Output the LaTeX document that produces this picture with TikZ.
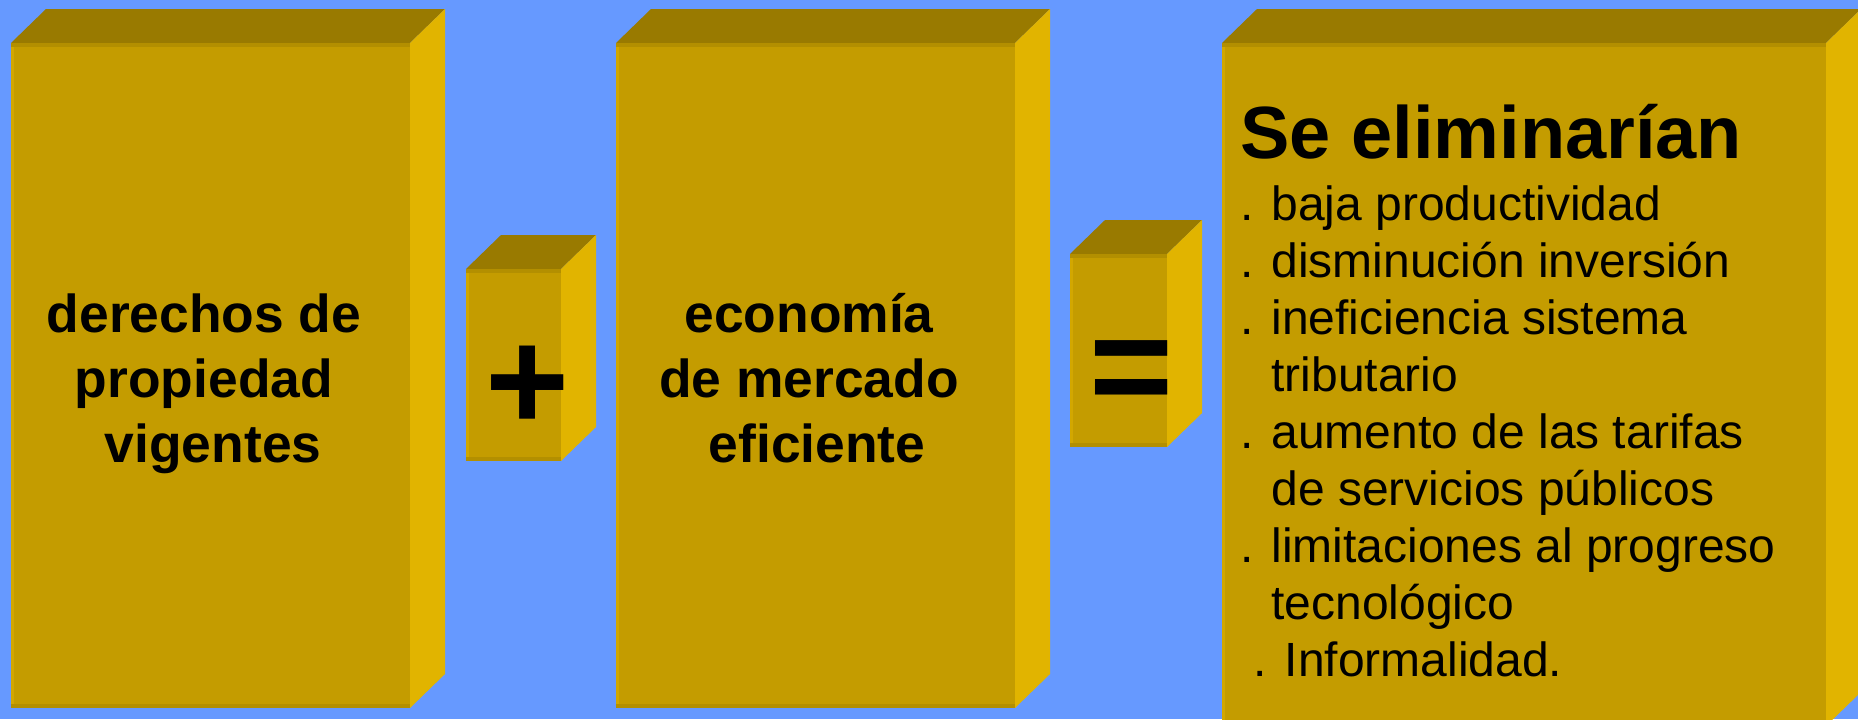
\documentclass[tikz,border=0pt]{standalone}
\usepackage{fontspec}
\setmainfont{Liberation Sans}
\definecolor{fondo}{HTML}{6699FF}
\definecolor{frente}{HTML}{C49C00}
\definecolor{tapa}{HTML}{997A00}
\definecolor{lado}{HTML}{E1B400}
\definecolor{borde}{HTML}{B38F00}
\definecolor{brillo}{HTML}{D2A700}
\tikzset{
  frontface/.style={fill=frente},
  topface/.style={fill=tapa},
  sideface/.style={fill=lado},
  titulo/.style={font=\fontsize{26.7}{32.3}\selectfont\bfseries, align=center, anchor=base, inner sep=0pt},
  signo/.style={font=\fontsize{72}{72}\selectfont\bfseries, inner sep=0pt},
  encabezado/.style={font=\fontsize{37}{44}\selectfont\bfseries, anchor=base west, inner sep=0pt},
  item/.style={font=\fontsize{24}{28.5}\selectfont, anchor=base west, inner sep=0pt}
}
\begin{document}
\begin{tikzpicture}[x=0.5pt,y=-0.5pt]
    \fill[fondo] (0,0) rectangle (1858,719);
    \useasboundingbox (0,0) rectangle (1858,719);
    \clip (0,0) rectangle (1858,719);

%   cajas: esquina frontal superior izquierda / inferior derecha
    \foreach \xa/\ya/\xb/\yb in {11/43/410/708, 466/269/561/461, 616/43/1015/708, 1070/254/1167/447, 1222/43/1826/726}{
      \fill[topface] (\xa,\ya) -- (\xa+35,\ya-34) -- (\xb+35,\ya-34) -- (\xb,\ya) -- cycle;
      \fill[sideface] (\xb,\ya) -- (\xb+35,\ya-34) -- (\xb+35,\yb-34) -- (\xb,\yb) -- cycle;
      \fill[frontface] (\xa,\ya) rectangle (\xb,\yb);
      \fill[borde] (\xa,\ya) rectangle (\xb,\ya+4);
      \fill[borde] (\xa,\yb-4) rectangle (\xb,\yb);
      \fill[brillo] (\xa,\ya+4) rectangle (\xa+3,\yb-4);
    }

%   base = ultima linea
    \node[titulo] (derechos) at (204,462) {derechos de\\propiedad\\\hspace*{0.34em}vigentes};
    \node[titulo] (economia) at (809,462) {economía\\de mercado\\\hspace*{0.3em}eficiente};

    \node[signo] (mas) at (528,388) {+};
    \node[signo] (igual) at (1132,378) {=};

    \node[encabezado] (elimina) at (1240,158) {Se eliminarían};
    \foreach \t [count=\i from 0] in {{. baja productividad}, {. disminución inversión}, {. ineficiencia sistema}, {\phantom{. }tributario}, {. aumento de las tarifas}, {\phantom{. }de servicios públicos}, {. limitaciones al progreso}, {\phantom{. }tecnológico}, {\hspace{0.278em}. Informalidad.}}
      \node[item] (item\i) at (1240,220+57*\i) {\t};

\end{tikzpicture}
\end{document}
